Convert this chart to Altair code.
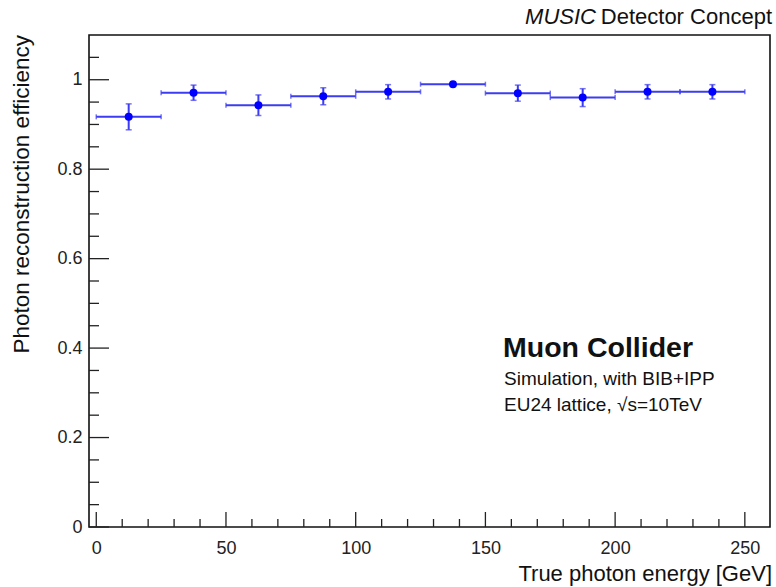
import altair as alt
import pandas as pd

# ---- data ----
bin_lo = [0, 25, 50, 75, 100, 125, 150, 175, 200, 225]
bin_hi = [25, 50, 75, 100, 125, 150, 175, 200, 225, 250]
bin_center = [12.5, 37.5, 62.5, 87.5, 112.5, 137.5, 162.5, 187.5, 212.5, 237.5]
efficiency = [0.917, 0.971, 0.943, 0.963, 0.973, 0.990, 0.970, 0.960, 0.973, 0.973]
eff_err = [0.029, 0.017, 0.023, 0.019, 0.016, 0.005, 0.018, 0.020, 0.016, 0.016]

x_major = [0, 50, 100, 150, 200, 250]
x_minor = [10, 20, 30, 40, 60, 70, 80, 90, 110, 120, 130, 140, 160, 170, 180, 190,
           210, 220, 230, 240]
y_major = [0, 0.2, 0.4, 0.6, 0.8, 1.0]
y_minor = [0.05, 0.1, 0.15, 0.25, 0.3, 0.35, 0.45, 0.5, 0.55, 0.65, 0.7, 0.75,
           0.85, 0.9, 0.95, 1.05]

x_title = "True photon energy [GeV]"
y_title = "Photon reconstruction efficiency"

FONT = "Liberation Sans"
W, H = 681, 492
LINE = "#3c3cf0"
MARK = "#0000ff"

df = pd.DataFrame({
    "lo": bin_lo, "hi": bin_hi, "c": bin_center,
    "eff": efficiency, "err": eff_err,
})
df["elo"] = df["eff"] - df["err"]
df["ehi"] = df["eff"] + df["err"]

xscale = alt.Scale(domain=[-2.8, 259.7], nice=False, zero=False)
yscale = alt.Scale(domain=[0, 1.1], nice=False, zero=False)
xaxis = alt.Axis(values=x_major, ticks=False, domain=False, grid=False,
                 labelFontSize=18, labelFont=FONT, labelColor="#222",
                 labelPadding=12, title="")
yaxis = alt.Axis(values=y_major, ticks=False, domain=False, grid=False,
                 labelFontSize=18, labelFont=FONT, labelColor="#222",
                 labelPadding=7, format="~g", title="")


def X(f):
    return alt.X(f, type="quantitative", scale=xscale, axis=xaxis)


def Y(f):
    return alt.Y(f, type="quantitative", scale=yscale, axis=yaxis)


base = alt.Chart(df)

hbar = base.mark_rule(color=LINE, strokeWidth=2).encode(x=X("lo"), x2="hi", y=Y("eff"))
hcap_lo = base.mark_tick(orient="vertical", size=5, thickness=1.5, color=LINE).encode(
    x=X("lo"), y=Y("eff"))
hcap_hi = base.mark_tick(orient="vertical", size=5, thickness=1.5, color=LINE).encode(
    x=X("hi"), y=Y("eff"))
vbar = base.mark_rule(color=LINE, strokeWidth=2).encode(x=X("c"), y=Y("elo"), y2="ehi")
vcap_lo = base.mark_tick(orient="horizontal", size=6, thickness=1.5, color=LINE).encode(
    x=X("c"), y=Y("elo"))
vcap_hi = base.mark_tick(orient="horizontal", size=6, thickness=1.5, color=LINE).encode(
    x=X("c"), y=Y("ehi"))
pts = base.mark_circle(size=64, color=MARK, opacity=1).encode(x=X("c"), y=Y("eff"))

TICK = "#222"
xmaj = alt.Chart(pd.DataFrame({"v": x_major})).mark_rule(color=TICK, strokeWidth=1.3).encode(
    x=X("v"), y=alt.value(H), y2=alt.value(H - 15))
xmin = alt.Chart(pd.DataFrame({"v": x_minor})).mark_rule(color=TICK, strokeWidth=1.3).encode(
    x=X("v"), y=alt.value(H), y2=alt.value(H - 8))
ymaj = alt.Chart(pd.DataFrame({"v": y_major})).mark_rule(color=TICK, strokeWidth=1.3).encode(
    y=Y("v"), x=alt.value(0), x2=alt.value(20))
ymin = alt.Chart(pd.DataFrame({"v": y_minor})).mark_rule(color=TICK, strokeWidth=1.3).encode(
    y=Y("v"), x=alt.value(0), x2=alt.value(10))


def label(text, x, y, size, **kw):
    return alt.Chart(pd.DataFrame({"t": [text]})).mark_text(
        font=FONT, fontSize=size, color="#111", **kw
    ).encode(text="t:N", x=alt.value(x), y=alt.value(y))


xt = label(x_title, 683, 546, 22, align="right", baseline="alphabetic")
yt = label(y_title, -67, 0, 22.5, align="right", baseline="middle", angle=270)
top1 = label("Detector Concept", 683, -11, 22, align="right", baseline="alphabetic")
top2 = label("MUSIC", 507, -11, 22, align="right", baseline="alphabetic", fontStyle="italic")
mc = label("Muon Collider", 414, 322, 28.5, align="left", baseline="alphabetic", fontWeight="bold")
sim = label("Simulation, with BIB+IPP", 415, 350, 19, align="left", baseline="alphabetic")
eu = label("EU24 lattice, √s=10TeV", 415, 376, 19, align="left", baseline="alphabetic")

chart = alt.layer(
    xmin, xmaj, ymin, ymaj,
    hbar, hcap_lo, hcap_hi, vbar, vcap_lo, vcap_hi, pts,
    xt, yt, top1, top2, mc, sim, eu,
).properties(
    width=W, height=H,
    autosize=alt.AutoSizeParams(type="none"),
    padding={"left": 89, "top": 35, "right": 6, "bottom": 60},
    background="white",
).configure_view(stroke="#111", strokeWidth=1.6)

chart.save("out.html", embed_options={"renderer": "svg", "actions": False})
